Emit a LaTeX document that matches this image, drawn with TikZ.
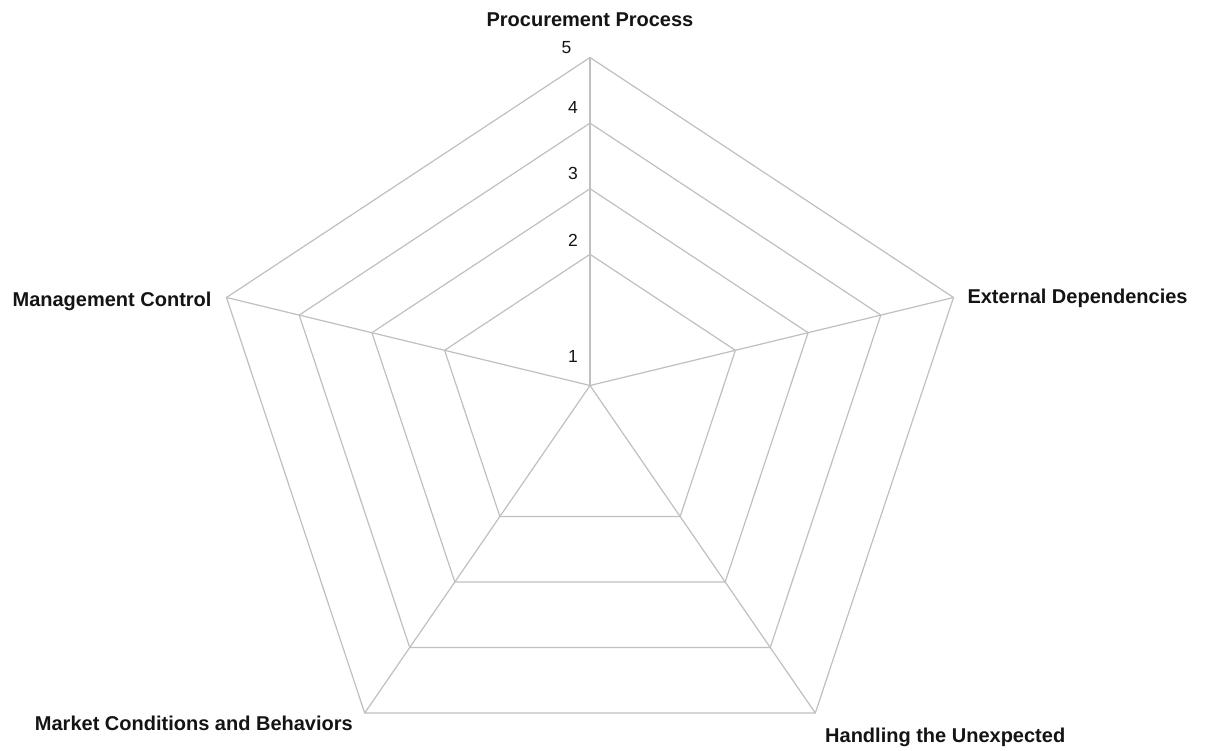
\documentclass[tikz,border=0pt]{standalone}
\usepackage{fontspec}
\setmainfont{Liberation Sans}
\usetikzlibrary{calc}
\definecolor{gridgray}{RGB}{192,192,192}
\definecolor{textdark}{RGB}{20,20,20}
\begin{document}
\begin{tikzpicture}[x=1pt,y=-1pt,
  grid/.style={draw=gridgray, line width=1.2pt, line join=miter},
  axislabel/.style={font=\fontsize{20}{24}\selectfont\bfseries, inner sep=0pt, text=textdark},
  ticklabel/.style={font=\fontsize{17.5}{21}\selectfont, inner sep=0pt, text=textdark}]
\useasboundingbox (0,0) rectangle (1207,751);
\fill[white] (0,0) rectangle (1207,751);
\coordinate (C) at (590,385.5);
\foreach \n/\dx/\dy in {a/0/-328, b/363.5/-88, c/225.3/327.5, d/-225.3/327.5, e/-363.5/-88} {
  \foreach \k in {2,3,4,5} {
    \pgfmathsetmacro{\px}{\k*\dx/5}
    \pgfmathsetmacro{\py}{\k*\dy/5}
    \coordinate (\n\k) at ($(C)+(\px,\py)$);
  }
}
% rings
\foreach \k in {2,3,4,5} {
  \draw[grid] (a\k) -- (b\k) -- (c\k) -- (d\k) -- (e\k) -- cycle;
}
% spokes
\foreach \n in {a,b,c,d,e} {
  \draw[grid] (C) -- (\n5);
}
% tick labels
\node[ticklabel] (t5) at (566.5,47.5) {5};
\node[ticklabel] (t4) at (573,107.5) {4};
\node[ticklabel] (t3) at (573,173.5) {3};
\node[ticklabel] (t2) at (573,240) {2};
\node[ticklabel] (t1) at (573,356) {1};
% axis labels
\node[axislabel, anchor=base] (lA) at (590,26.7) {Procurement Process};
\node[axislabel, anchor=base west] (lB) at (967.3,303.5) {External Dependencies};
\node[axislabel, anchor=base west] (lC) at (825,742.5) {Handling the Unexpected};
\node[axislabel, anchor=base east] (lD) at (353,730) {Market Conditions and Behaviors};
\node[axislabel, anchor=base east] (lE) at (211.7,306.5) {Management Control};
\end{tikzpicture}
\end{document}
